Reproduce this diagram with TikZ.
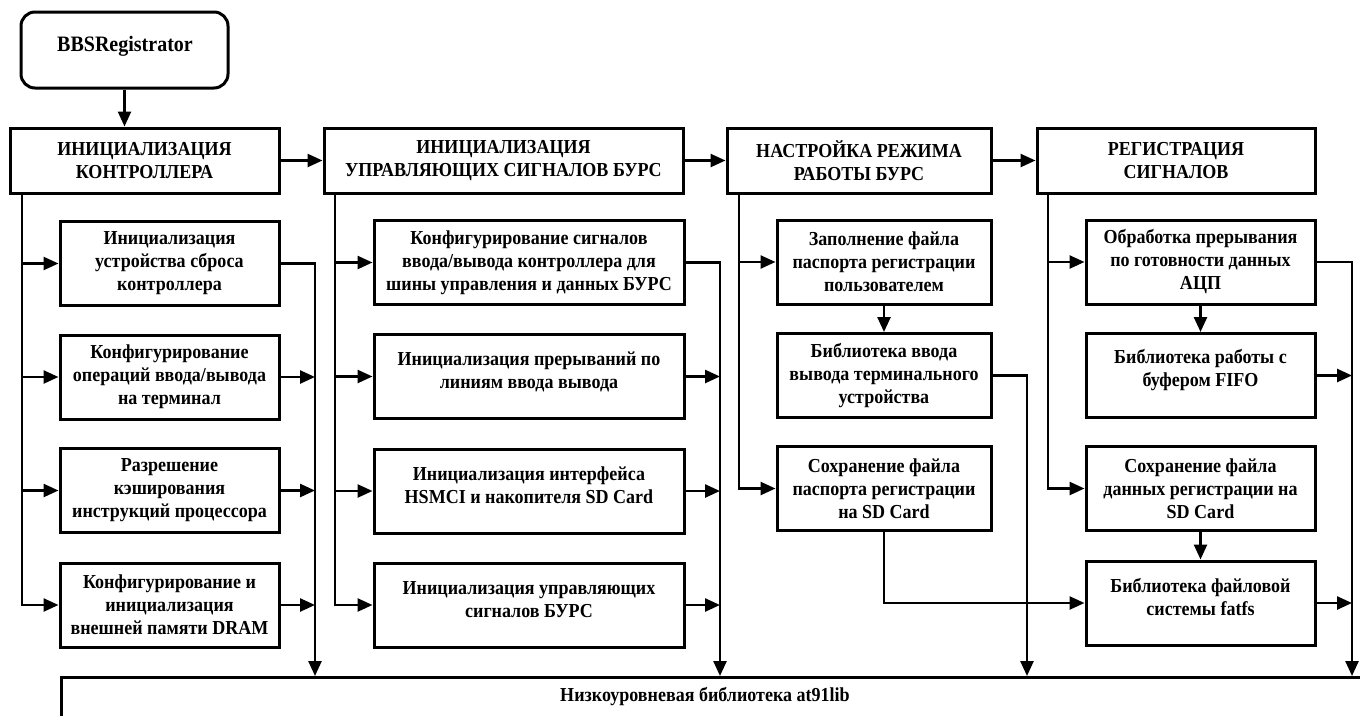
\documentclass[tikz,border=0pt]{standalone}
\usepackage{fontspec}
\setmainfont{Liberation Serif}[FakeStretch=0.91]
\usetikzlibrary{arrows.meta}
\begin{document}
\begin{tikzpicture}[x=1pt,y=-1pt,
  box/.style={draw, line width=3pt, rectangle, inner sep=0pt},
  head/.style={box, minimum height=65pt},
  sub/.style={box, minimum height=84pt},
  txt/.style={align=center, font=\bfseries\fontsize{19.8}{23}\selectfont, inner sep=0pt},
  link/.style={line width=2.5pt, line join=miter},
  arr/.style={link, -{Triangle[length=15pt,width=13pt]}},
]
\clip (0,0) rectangle (1360,715);

% start block
\node[box, rounded corners=14pt, minimum width=207pt, minimum height=76pt] (bbs) at (124.5,50) {};
\node[txt, font=\bfseries\fontsize{22}{26}\selectfont] (bbs-t) at (125,46) {BBSRegistrator};

% stage headers
\node[head, minimum width=269pt] (h1) at (144.5,160.5) {};
\node[txt] (h1-t) at (h1) {ИНИЦИАЛИЗАЦИЯ\\КОНТРОЛЛЕРА};
\node[head, minimum width=359pt] (h2) at (503.5,160.5) {};
\node[txt] (h2-t) at (h2) {ИНИЦИАЛИЗАЦИЯ\\УПРАВЛЯЮЩИХ СИГНАЛОВ БУРС};
\node[head, minimum width=264pt] (h3) at (859,160.5) {};
\node[txt] (h3-t) at (h3) {НАСТРОЙКА РЕЖИМА\\РАБОТЫ БУРС};
\node[head, minimum width=278pt] (h4) at (1176,160.5) {};
\node[txt] (h4-t) at (h4) {РЕГИСТРАЦИЯ\\СИГНАЛОВ};

% column 1
\node[sub, minimum width=219pt] (a1) at (169.5,263.5) {};
\node[txt] (a1-t) at (a1) {Инициализация\\устройства сброса\\контроллера};
\node[sub, minimum width=219pt] (a2) at (169.5,377) {};
\node[txt] (a2-t) at (a2) {Конфигурирование\\операций ввода/вывода\\на терминал};
\node[sub, minimum width=219pt] (a3) at (169.5,490.5) {};
\node[txt] (a3-t) at (a3) {Разрешение\\кэширования\\инструкций процессора};
\node[sub, minimum width=219pt] (a4) at (169.5,605) {};
\node[txt] (a4-t) at (a4) {Конфигурирование и\\инициализация\\внешней памяти DRAM};

% column 2
\node[sub, minimum width=310pt] (b1) at (529,262.5) {};
\node[txt] (b1-t) at (b1) {Конфигурирование сигналов\\ввода/вывода контроллера для\\шины управления и данных БУРС};
\node[sub, minimum width=310pt] (b2) at (529,376.5) {};
\node[txt] (b2-t) at ([yshift=5pt]b2.center) {Инициализация прерываний по\\линиям ввода вывода};
\node[sub, minimum width=310pt] (b3) at (529,491) {};
\node[txt] (b3-t) at ([yshift=6pt]b3.center) {Инициализация интерфейса\\HSMCI и накопителя SD Card};
\node[sub, minimum width=310pt] (b4) at (529,605) {};
\node[txt] (b4-t) at ([yshift=5pt]b4.center) {Инициализация управляющих\\сигналов БУРС};

% column 3
\node[sub, minimum width=214pt] (c1) at (884,262) {};
\node[txt] (c1-t) at (c1) {Заполнение файла\\паспорта регистрации\\пользователем};
\node[sub, minimum width=214pt] (c2) at (884,375.5) {};
\node[txt] (c2-t) at (c2) {Библиотека ввода\\вывода терминального\\устройства};
\node[sub, minimum width=214pt] (c3) at (884,488.5) {};
\node[txt] (c3-t) at (c3) {Сохранение файла\\паспорта регистрации\\на SD Card};

% column 4
\node[sub, minimum width=229pt] (d1) at (1200.5,262) {};
\node[txt] (d1-t) at (d1) {Обработка прерывания\\по готовности данных\\АЦП};
\node[sub, minimum width=229pt] (d2) at (1200.5,375.5) {};
\node[txt] (d2-t) at ([yshift=5pt]d2.center) {Библиотека работы с\\буфером FIFO};
\node[sub, minimum width=229pt] (d3) at (1200.5,488.5) {};
\node[txt] (d3-t) at (d3) {Сохранение файла\\данных регистрации на\\SD Card};
\node[sub, minimum width=229pt] (d4) at (1200.5,603) {};
\node[txt] (d4-t) at ([yshift=6pt]d4.center) {Библиотека файловой\\системы fatfs};

% low-level library
\node[box, anchor=north west, minimum width=1340pt, minimum height=80pt] (lib) at (60,676) {};
\node[txt] (lib-t) at (705,697) {Низкоуровневая библиотека at91lib};

% bus lines
\coordinate (l1) at (22,0);
\coordinate (r1) at (315,0);
\coordinate (l2) at (335,0);
\coordinate (r2) at (720,0);
\coordinate (l3) at (739,0);
\coordinate (r3) at (1027,0);
\coordinate (l4) at (1048,0);
\coordinate (r4) at (1352,0);

% main flow
\draw[arr] (bbs.south) -- (bbs.south |- h1.north);
\draw[arr] (h1.east) -- (h2.west);
\draw[arr] (h2.east) -- (h3.west);
\draw[arr] (h3.east) -- (h4.west);

% column 1 links
\draw[arr] (l1 |- h1.south) |- (a4.west);
\foreach \n in {a1,a2,a3} \draw[arr] (l1 |- \n.west) -- (\n.west);
\draw[arr] (a1.east) -| (r1 |- lib.north);
\foreach \n in {a2,a3,a4} \draw[arr] (\n.east) -- (r1 |- \n.east);

% column 2 links
\draw[arr] (l2 |- h2.south) |- (b4.west);
\foreach \n in {b1,b2,b3} \draw[arr] (l2 |- \n.west) -- (\n.west);
\draw[arr] (b1.east) -| (r2 |- lib.north);
\foreach \n in {b2,b3,b4} \draw[arr] (\n.east) -- (r2 |- \n.east);

% column 3 links
\draw[arr] (l3 |- h3.south) |- (c3.west);
\draw[arr] (l3 |- c1.west) -- (c1.west);
\draw[arr] (c1.south) -- (c2.north);
\draw[arr] (c2.east) -| (r3 |- lib.north);
\draw[arr] (c3.south) |- (d4.west);

% column 4 links
\draw[arr] (l4 |- h4.south) |- (d3.west);
\draw[arr] (l4 |- d1.west) -- (d1.west);
\draw[arr] (d1.south) -- (d2.north);
\draw[arr] (d3.south) -- (d4.north);
\draw[arr] (d1.east) -| (r4 |- lib.north);
\draw[arr] (d2.east) -- (r4 |- d2.east);
\draw[arr] (d4.east) -- (r4 |- d4.east);
\end{tikzpicture}
\end{document}
